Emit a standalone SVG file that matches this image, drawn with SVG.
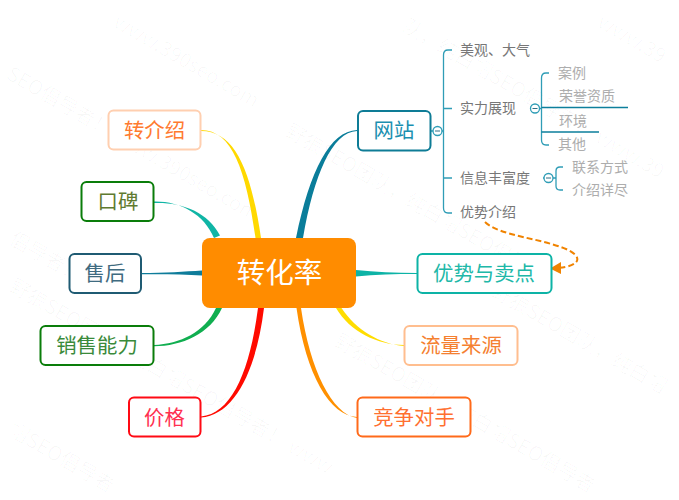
<svg xmlns="http://www.w3.org/2000/svg" width="679" height="500" viewBox="0 0 679 500">
<style>
text{font-family:"Noto Sans CJK SC","Liberation Sans",sans-serif}
.wm{font-size:20px;fill:#000;fill-opacity:.028}
.box{fill:#fff;stroke-width:2}
.t1{font-size:20.4px;text-anchor:middle}
.t2{font-size:14px;fill:#777}
.t3{font-size:14px;fill:#adadad}
.br{fill:none;stroke:#2f9db6;stroke-width:1.3}
.ul{fill:none;stroke:#0d7f9c;stroke-width:1.3}
.tg{fill:#fff;stroke:#2f9db6;stroke-width:1.3}
.mn{stroke:#2f6f86;stroke-width:1}
</style>
<rect width="679" height="500" fill="#fff"/>
<g id="watermark">
<text class="wm" x="5" y="78" transform="rotate(30 5 78)">SEO倡导者！ www.390seo.com</text>
<text class="wm" x="401" y="30" transform="rotate(30 401 30)">队，纯白帽SEO倡导者！ www.39</text>
<text class="wm" x="112" y="26" transform="rotate(30 112 26)">www.390seo.com</text>
<text class="wm" x="596" y="26" transform="rotate(30 596 26)">www.39</text>
<text class="wm" x="284" y="135" transform="rotate(30 284 135)">野狼SEO团队，纯白帽SEO倡导者！</text>
<text class="wm" x="8" y="243" transform="rotate(30 8 243)">倡导者！</text>
<text class="wm" x="490" y="295" transform="rotate(30 490 295)">野狼SEO团队，纯白帽</text>
<text class="wm" x="8" y="290" transform="rotate(30 8 290)">野狼SEO团队，纯白帽SEO倡导者！ www</text>
<text class="wm" x="7" y="434" transform="rotate(30 7 434)">帽SEO倡导者</text>
<text class="wm" x="333" y="345" transform="rotate(30 333 345)">野狼SEO团队，纯白帽SEO倡导者</text>
</g>
<g id="connectors">
<path fill="#0a7d9a" d="M357 130C330 131 310 170 296 238L303 238C314 175 332 132 357 131Z"/>
<path fill="#0db3a6" d="M417 273C395 273 375 272 356 270L356 276.500C375 274.500 395 274 417 274Z"/>
<path fill="#ffdd00" d="M404 345C378 345 350 332 336 308L341.500 308C356 330 380 344 404 346Z"/>
<path fill="#ff9000" d="M357 417C330 416 306 375 296.500 308L301 308C310 370 332 414 357 418Z"/>
<path fill="#ffd900" d="M201 130C232 130 246 170 255.500 238L261 238C251 170 235 131 201 131Z"/>
<path fill="#10b5a5" d="M154 201.500C180 201 204 214 214 238L220 235.500C208 212 182 202 154 203Z"/>
<path fill="#0e7c9a" d="M141 273C165 273 185 271.500 202 270.500L202 275.500C185 274.500 165 274 141 274.300Z"/>
<path fill="#10ae50" d="M154 345C180 344 205 332 216 308L222 308C210 334 182 346 154 346.300Z"/>
<path fill="#ff0a00" d="M201 416.500C232 414 250 370 258 308L264 308C256 372 234 415 201 417.500Z"/>
<g id="link-youshi">
<path d="M485 222C500 236 540 238 566 249C584 257 580 266 558 268" fill="none" stroke="#f08300" stroke-width="2" stroke-dasharray="6 3"/>
<path d="M550 268.500L561 262L561 274Z" fill="#f08300"/>
</g>
<g id="branches">
<path class="br" d="M431 131H443M452 50H448Q443.500 50 443.500 55V208Q443.500 213 448 213H452M443.500 108.500H452M443.500 178H452"/>
<path class="br" d="M530 108.500H541.500M549 73H546Q541.500 73 541.500 78V140Q541.500 145 546 145H549"/>
<path class="br" d="M543 178H556M563 167H560Q556 167 556 171V186Q556 190 560 190H563"/>
<path class="ul" d="M541.500 107.500H628M541.500 132H599"/>
</g>
</g>
<g id="n-center"><rect x="202" y="238" width="154" height="70" rx="8" fill="#ff8c00"/><text x="279.500" y="283" font-size="28.500" fill="#fff" text-anchor="middle">转化率</text></g>
<g id="n-wangzhan"><rect class="box" x="358" y="111" width="72.500" height="39.500" rx="5" stroke="#0e7c96"/><text class="t1" x="394" y="138" fill="#1a8fb0">网站</text></g>
<g id="n-youshi"><rect class="box" x="417.500" y="254" width="134" height="39" rx="5" stroke="#0db3a6"/><text class="t1" x="484" y="281" fill="#20b8a8">优势与卖点</text></g>
<g id="n-liuliang"><rect class="box" x="404.500" y="326" width="113" height="39" rx="5" stroke="#ffbe8f"/><text class="t1" x="461" y="353" fill="#f58030">流量来源</text></g>
<g id="n-jingzheng"><rect class="box" x="357.500" y="397.500" width="113" height="39" rx="5" stroke="#ff6a1a"/><text class="t1" x="414" y="425" fill="#ff7030">竞争对手</text></g>
<g id="n-zhuanjieshao"><rect class="box" x="108.500" y="110.500" width="92" height="39" rx="5" stroke="#ffcfb0"/><text class="t1" x="154.500" y="137.500" fill="#ff7a2f">转介绍</text></g>
<g id="n-koubei"><rect class="box" x="81.500" y="182" width="72" height="39" rx="5" stroke="#0a7d0a"/><text class="t1" x="118" y="209" fill="#5f7a30">口碑</text></g>
<g id="n-shouhou"><rect class="box" x="69.500" y="254" width="71.500" height="39" rx="5" stroke="#1f5b73"/><text class="t1" x="105" y="281" fill="#3f6b80">售后</text></g>
<g id="n-xiaoshou"><rect class="box" x="40.500" y="326" width="113" height="39" rx="5" stroke="#0a7d0a"/><text class="t1" x="97" y="353" fill="#3a8a3a">销售能力</text></g>
<g id="n-jiage"><rect class="box" x="129" y="397.500" width="71.500" height="39" rx="5" stroke="#ff0a14"/><text class="t1" x="164.500" y="425" fill="#ff3050">价格</text></g>
<g id="n-meiguan"><text class="t2" x="460" y="55">美观、大气</text></g>
<g id="n-shili"><text class="t2" x="460" y="113">实力展现</text><circle class="tg" cx="535" cy="108.500" r="4.500"/><path class="mn" d="M532.500 108.500H537.500"/></g>
<g id="n-xinxi"><text class="t2" x="460" y="183">信息丰富度</text><circle class="tg" cx="548.500" cy="178" r="4.500"/><path class="mn" d="M546 178H551"/></g>
<g id="n-youshijieshao"><text class="t2" x="460" y="217">优势介绍</text></g>
<g id="toggle-wangzhan"><circle class="tg" cx="437.500" cy="131" r="4.500"/><path class="mn" d="M435 131H440"/></g>
<g id="n-anli"><text class="t3" x="558" y="78">案例</text></g>
<g id="n-rongyu"><text class="t3" x="559" y="101">荣誉资质</text></g>
<g id="n-huanjing"><text class="t3" x="559" y="126">环境</text></g>
<g id="n-qita"><text class="t3" x="558" y="149">其他</text></g>
<g id="n-lianxi"><text class="t3" x="572" y="172">联系方式</text></g>
<g id="n-jieshao"><text class="t3" x="572" y="195">介绍详尽</text></g>
</svg>
